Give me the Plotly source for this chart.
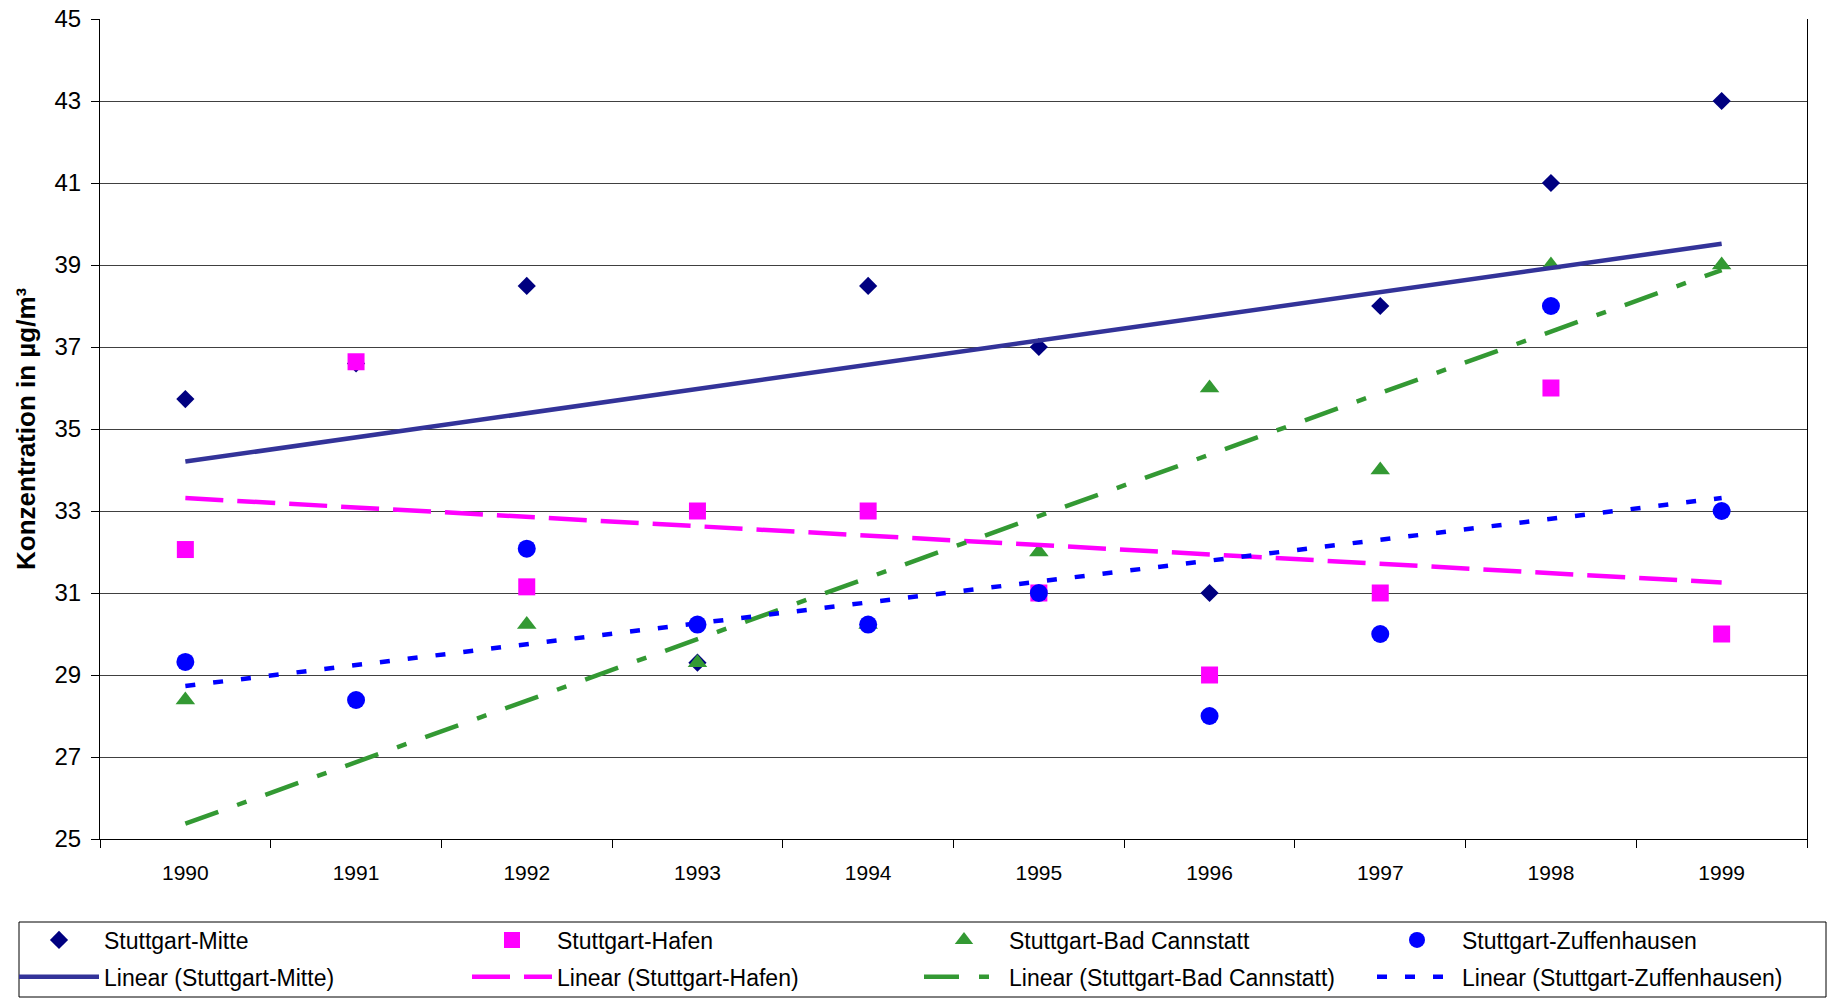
import numpy as np
import plotly.graph_objects as go

years = ["1990", "1991", "1992", "1993", "1994", "1995", "1996", "1997", "1998", "1999"]
mitte = [35.73, 36.6, 38.49, 29.3, 38.49, 37.0, 31.0, 38.0, 41.0, 43.0]
hafen = [32.06, 36.64, 31.15, 33.0, 33.0, 31.0, 29.0, 31.0, 36.0, 30.0]
cannstatt = [28.39, 23.1, 30.23, 29.3, 30.23, 32.0, 36.0, 34.0, 39.0, 39.0]
zuffenhausen = [29.32, 28.39, 32.08, 30.23, 30.23, 31.0, 28.0, 30.0, 38.0, 33.0]
y_ticks = [25, 27, 29, 31, 33, 35, 37, 39, 41, 43, 45]

FONT = "Liberation Sans, Arial, sans-serif"
W, H = 1829, 998
L, R, T, B = 100, 22, 19, 159
PW, PH = W - L - R, H - T - B


def px_x(x):
    return (x - L) / PW


def px_y(y):
    return (H - B - y) / PH


series = [
    ("Stuttgart-Mitte", mitte, "#000080", "diamond", 14, "#333399", "solid"),
    ("Stuttgart-Hafen", hafen, "#FF00FF", "square", 17, "#FF00FF", "38px,14px"),
    ("Stuttgart-Bad Cannstatt", cannstatt, "#339933", "triangle-up", 17, "#339933", "35px,20px,10px,20px"),
    ("Stuttgart-Zuffenhausen", zuffenhausen, "#0000FF", "circle", 18, "#0000FF", "10px,18px"),
]
legend_ids = ["legend", "legend2", "legend3", "legend4"]
legend_text_x = [105, 558, 1010, 1463]

fig = go.Figure()
for i, (name, vals, col, sym, size, lcol, dash) in enumerate(series):
    fig.add_trace(go.Scatter(
        x=years, y=vals, mode="markers", name=name,
        marker=dict(symbol=sym, size=size, color=col, line=dict(width=0)),
        cliponaxis=True, legend=legend_ids[i], legendgroup=f"m{i}",
    ))

idx = np.arange(len(years))
for i, (name, vals, col, sym, size, lcol, dash) in enumerate(series):
    slope, icpt = np.polyfit(idx, np.array(vals, dtype=float), 1)
    trend = icpt + slope * idx
    fig.add_trace(go.Scatter(
        x=years, y=trend, mode="lines", name=f"Linear ({name})",
        line=dict(color=lcol, width=4.5, dash=dash),
        legend=legend_ids[i], legendgroup=f"l{i}",
    ))

legends = {}
for i, lid in enumerate(legend_ids):
    legends[lid] = dict(
        orientation="v", x=px_x(legend_text_x[i] - 91), y=px_y(918.5),
        xanchor="left", yanchor="top",
        bgcolor="rgba(0,0,0,0)", borderwidth=0,
        itemwidth=80, tracegroupgap=4,
        font=dict(family=FONT, size=23, color="black"),
    )

fig.update_layout(
    width=W, height=H,
    margin=dict(l=L, r=R, t=T, b=B, autoexpand=False),
    paper_bgcolor="white", plot_bgcolor="white",
    font=dict(family=FONT, size=22, color="black"),
    showlegend=True,
    **legends,
    xaxis=dict(
        type="category", range=[-0.5, 9.5], tickson="boundaries",
        ticks="outside", ticklen=8, tickcolor="black",
        showline=True, linecolor="black", linewidth=1,
        showgrid=False, ticklabelstandoff=15,
        tickfont=dict(family=FONT, size=21, color="black"),
    ),
    yaxis=dict(
        range=[25, 45], tickvals=y_ticks, ticks="outside", ticklen=8, tickcolor="black",
        showline=True, linecolor="black", linewidth=1, mirror=True,
        showgrid=True, gridcolor="#404040", gridwidth=1, zeroline=False,
        ticklabelstandoff=5,
        tickfont=dict(family=FONT, size=24, color="black"),
    ),
    annotations=[dict(
        text="<b>Konzentration in µg/m³</b>", textangle=-90,
        xref="paper", yref="paper", x=px_x(26), y=0.5, xanchor="center", yanchor="middle",
        showarrow=False, font=dict(family=FONT, size=26, color="black"),
    )],
    shapes=[dict(
        type="rect", xref="paper", yref="paper",
        x0=px_x(19), x1=px_x(1826), y0=px_y(997), y1=px_y(922),
        line=dict(color="black", width=1), fillcolor="rgba(0,0,0,0)",
    )],
)

fig.write_html(
    "out.html",
    config={"displayModeBar": False},
    post_script="document.body.style.margin='0';document.body.style.overflow='hidden';",
)
